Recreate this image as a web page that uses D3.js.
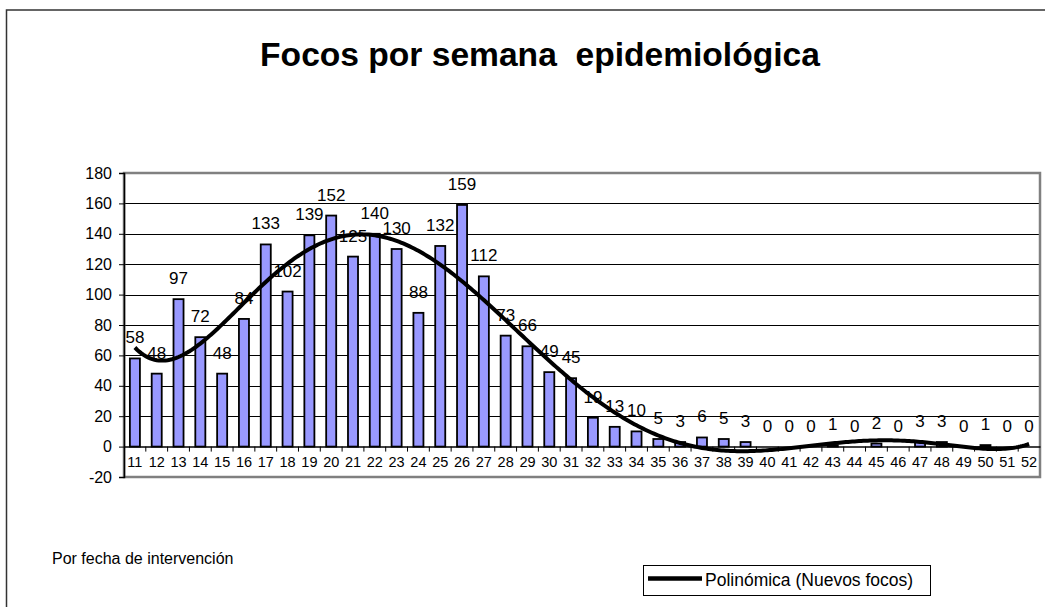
<!DOCTYPE html>
<html lang="es">
<head>
    <meta charset="UTF-8">
    <title>Focos por semana epidemiológica</title>
    <script src="https://d3js.org/d3.v7.min.js"></script>
    <style>
        body {
            margin: 0;
            background: #fff;
            font-family: Arial, "Liberation Sans", sans-serif;
        }
        svg text {
            font-family: Arial, "Liberation Sans", sans-serif;
        }
    </style>
</head>
<body>
    <script>
        // semanas epidemiológicas
        const weeks = d3.range(11, 53).map(String);
        // nuevos focos por semana
        const focos = [58, 48, 97, 72, 48, 84, 133, 102, 139, 152, 125, 140, 130, 88, 132, 159, 112, 73, 66, 49,
            45, 19, 13, 10, 5, 3, 6, 5, 3, 0, 0, 0, 1, 0, 2, 0, 3, 3, 0, 1, 0, 0];
        const yTicks = [-20, 0, 20, 40, 60, 80, 100, 120, 140, 160, 180];

        const w = 1045, h = 607;
        const plotLeft = 124, plotRight = 1040, plotTop = 173, plotBottom = 477;

        const svg = d3.select("body").append("svg")
            .attr("width", w)
            .attr("height", h);

        // outer chart border
        svg.append("rect")
            .attr("x", 6.5).attr("y", 10)
            .attr("width", w + 20).attr("height", h + 20)
            .attr("fill", "none")
            .attr("stroke", "#333")
            .attr("stroke-width", 1.5);

        svg.append("text")
            .attr("x", 540).attr("y", 66)
            .attr("text-anchor", "middle")
            .attr("font-size", 33.6)
            .attr("font-weight", "bold")
            .attr("xml:space", "preserve")
            .style("white-space", "pre")
            .text("Focos por semana  epidemiológica");

        const x = d3.scaleBand()
            .domain(weeks)
            .range([plotLeft, plotRight])
            .paddingInner(0.54)
            .paddingOuter(0.27);

        const y = d3.scaleLinear()
            .domain([-20, 180])
            .range([plotBottom, plotTop]);

        // gridlines
        svg.append("g")
            .selectAll("line")
            .data(yTicks.filter(t => t > 0 && t < 180))
            .enter().append("line")
            .attr("x1", plotLeft).attr("x2", plotRight)
            .attr("y1", d => Math.round(y(d)) + 0.5)
            .attr("y2", d => Math.round(y(d)) + 0.5)
            .attr("stroke", "#000")
            .attr("stroke-width", 1);

        // plot area border
        svg.append("rect")
            .attr("x", plotLeft).attr("y", plotTop)
            .attr("width", plotRight - plotLeft).attr("height", plotBottom - plotTop)
            .attr("fill", "none")
            .attr("stroke", "#808080")
            .attr("stroke-width", 2.5);

        // bars
        svg.append("g")
            .selectAll("rect")
            .data(focos)
            .enter().append("rect")
            .attr("x", (d, i) => x(weeks[i]))
            .attr("y", d => y(d))
            .attr("width", x.bandwidth())
            .attr("height", d => y(0) - y(d))
            .attr("fill", "#9999ff")
            .attr("stroke", "#000")
            .attr("stroke-width", 1.8);

        // y axis
        const yAxis = d3.axisLeft(y)
            .tickValues(yTicks)
            .tickFormat(d => String(d))
            .tickSize(5)
            .tickPadding(7);
        const gy = svg.append("g")
            .attr("transform", `translate(${plotLeft},0)`)
            .call(yAxis);
        gy.select(".domain").attr("stroke", "#000").attr("stroke-width", 1.5);
        gy.selectAll(".tick line").attr("stroke", "#000");
        gy.selectAll(".tick text")
            .attr("font-size", 16)
            .attr("fill", "#000");

        // x axis at zero, ticks between categories
        const xAxis = d3.axisBottom(x).tickSize(0).tickPadding(10);
        const gx = svg.append("g")
            .attr("transform", `translate(0,${y(0)})`)
            .call(xAxis);
        gx.select(".domain").attr("stroke", "#000").attr("stroke-width", 1.5);
        gx.selectAll(".tick text")
            .attr("font-size", 14.5)
            .attr("fill", "#000");
        gx.selectAll(".sep")
            .data(weeks.slice(1))
            .enter().append("line")
            .attr("x1", d => x(d) - x.step() * x.paddingInner() / 2)
            .attr("x2", d => x(d) - x.step() * x.paddingInner() / 2)
            .attr("y1", 0).attr("y2", 5)
            .attr("stroke", "#000");

        // data labels
        svg.append("g")
            .selectAll("text")
            .data(focos)
            .enter().append("text")
            .attr("x", (d, i) => x(weeks[i]) + x.bandwidth() / 2)
            .attr("y", d => y(d) - 15)
            .attr("text-anchor", "middle")
            .attr("font-size", 17)
            .text(d => d);

        // polynomial trendline (order 6, least squares)
        function polyFit(xs, ys, order) {
            const n = order + 1;
            const A = d3.range(n).map(() => new Array(n + 1).fill(0));
            xs.forEach((xv, k) => {
                for (let r = 0; r < n; r++) {
                    for (let c = 0; c < n; c++) A[r][c] += Math.pow(xv, r + c);
                    A[r][n] += ys[k] * Math.pow(xv, r);
                }
            });
            for (let i = 0; i < n; i++) {
                let p = i;
                for (let r = i + 1; r < n; r++) if (Math.abs(A[r][i]) > Math.abs(A[p][i])) p = r;
                [A[i], A[p]] = [A[p], A[i]];
                for (let r = 0; r < n; r++) {
                    if (r === i) continue;
                    const f = A[r][i] / A[i][i];
                    for (let c = i; c <= n; c++) A[r][c] -= f * A[i][c];
                }
            }
            return A.map((row, i) => row[n] / row[i]);
        }
        const t = weeks.map((d, i) => (i - 20.5) / 20.5);
        const coef = polyFit(t, focos, 6);
        const trend = v => coef.reduce((s, c, k) => s + c * Math.pow(v, k), 0);
        const samples = d3.range(0, 41.01, 0.1);
        const xCenter = i => x(weeks[0]) + x.bandwidth() / 2 + i * x.step();

        svg.append("path")
            .datum(samples)
            .attr("fill", "none")
            .attr("stroke", "#000")
            .attr("stroke-width", 4)
            .attr("d", d3.line()
                .x(i => xCenter(i))
                .y(i => y(trend((i - 20.5) / 20.5))));

        svg.append("text")
            .attr("x", 52).attr("y", 564)
            .attr("font-size", 16)
            .text("Por fecha de intervención");

        // legend
        const lg = svg.append("g").attr("transform", "translate(643,565)");
        lg.append("rect")
            .attr("x", 0.5).attr("y", 0.5)
            .attr("width", 287).attr("height", 30)
            .attr("fill", "#fff")
            .attr("stroke", "#000");
        lg.append("line")
            .attr("x1", 5).attr("x2", 59)
            .attr("y1", 13.5).attr("y2", 13.5)
            .attr("stroke", "#000")
            .attr("stroke-width", 4.5);
        lg.append("text")
            .attr("x", 62).attr("y", 21)
            .attr("font-size", 17.5)
            .text("Polinómica (Nuevos focos)");
    </script>
</body>
</html>
